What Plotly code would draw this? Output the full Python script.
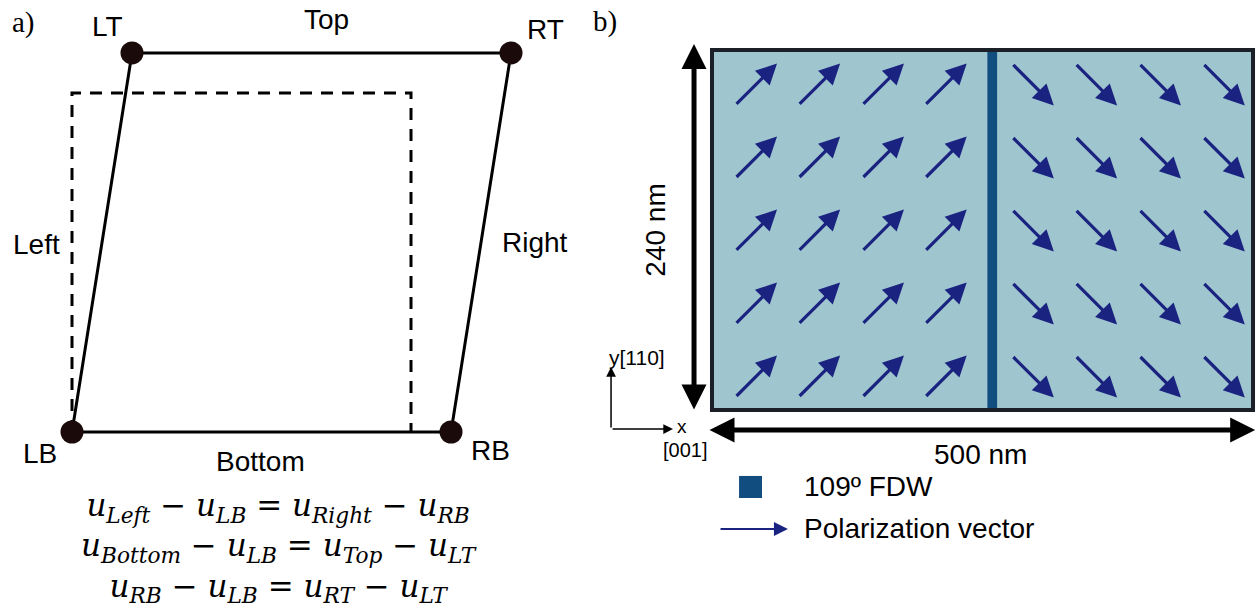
import plotly.graph_objects as go

# ---------------- data ----------------
# panel a: deformed cell corners, in units of the undeformed edge length
NODE_NAMES = ["LB", "RB", "RT", "LT"]
NODE_X = [0.0, 1.118, 1.295, 0.177]
NODE_Y = [0.0, 0.0, 1.118, 1.118]
# undeformed reference cell (dashed, open along the bottom)
REF_X = [0.0, 0.0, 1.0, 1.0]
REF_Y = [0.0, 1.0, 1.0, 0.0]
EDGE_NAMES = ["Bottom", "Right", "Top", "Left"]  # LB-RB, RB-RT, RT-LT, LT-LB
EQUATIONS = [
    ("Left", "LB", "Right", "RB"),
    ("Bottom", "LB", "Top", "LT"),
    ("RB", "LB", "RT", "LT"),
]

# panel b: domain geometry in nm
DOMAIN_W_NM = 500
DOMAIN_H_NM = 240
WALL_X_NM = 259
WALL_W_NM = 9
ARROW_COLS_LEFT = [40.7, 99.0, 158.0, 216.0]     # polarization up-right
ARROW_COLS_RIGHT = [296.5, 355.0, 414.0, 473.0]  # polarization down-right
ARROW_ROWS = [217.0, 168.3, 119.7, 71.0, 22.3]
ARROW_HALF_DX = 19.4
ARROW_HALF_DY = 14.0

# ---------------- styles ----------------
W, H = 1258, 609
SANS = "Liberation Sans, Arial, sans-serif"
SERIF = "Liberation Serif, Times New Roman, serif"
MATH = "DejaVu Serif, serif"
FILL = "#9fc6cf"
BORDER = "#1b2028"
WALL = "#124d80"
PCOL = "#1b2380"
DOT = "#1a0a0a"
FS = 28

fig = go.Figure()

# ---------- panel a ----------
poly_x = NODE_X + [NODE_X[0]]
poly_y = NODE_Y + [NODE_Y[0]]
fig.add_trace(go.Scatter(x=REF_X, y=REF_Y, mode="lines",
                         line=dict(color="black", width=3, dash="12px,9px"),
                         xaxis="x", yaxis="y", hoverinfo="skip"))
fig.add_trace(go.Scatter(x=poly_x, y=poly_y, mode="lines",
                         line=dict(color="black", width=3),
                         xaxis="x", yaxis="y", hoverinfo="skip"))
fig.add_trace(go.Scatter(x=NODE_X, y=NODE_Y, mode="markers",
                         marker=dict(color=DOT, size=23, line=dict(width=0)),
                         xaxis="x", yaxis="y", hoverinfo="skip"))

ann = []
node_shift = {"LB": (-32, -21), "RB": (39, -18), "RT": (34, 23), "LT": (-25, 26)}
for n, x, y in zip(NODE_NAMES, NODE_X, NODE_Y):
    dx, dy = node_shift[n]
    ann.append(dict(x=x, y=y, xref="x", yref="y", text=n, showarrow=False,
                    xshift=dx, yshift=dy, font=dict(family=SANS, size=FS, color="black")))
edge_shift = {"Bottom": (-1, -29), "Right": (54, 0), "Top": (5, 33), "Left": (-66, -2)}
for i, e in enumerate(EDGE_NAMES):
    j = (i + 1) % 4
    mx = (NODE_X[i] + NODE_X[j]) / 2
    my = (NODE_Y[i] + NODE_Y[j]) / 2
    dx, dy = edge_shift[e]
    ann.append(dict(x=mx, y=my, xref="x", yref="y", text=e, showarrow=False,
                    xshift=dx, yshift=dy, font=dict(family=SANS, size=FS, color="black")))

def u(sub):
    return f"<i>u</i><sub><i>{sub}</i></sub>"

eq_lines = [f"{u(a)} − {u(b)} = {u(c)} − {u(d)}" for (a, b, c, d) in EQUATIONS]
ann.append(dict(x=0.612, y=-0.340, xref="x", yref="y", text="<br>".join(eq_lines),
                showarrow=False, align="center",
                font=dict(family=MATH, size=31, color="black")))

ann.append(dict(x=-0.142, y=1.209, xref="x", yref="y", text="a)", showarrow=False,
                font=dict(family=SERIF, size=29, color="black")))

# ---------- panel b ----------
shapes = []
shapes.append(dict(type="rect", xref="x2", yref="y2", x0=0, x1=DOMAIN_W_NM, y0=0, y1=DOMAIN_H_NM,
                   fillcolor=FILL, line=dict(width=0), layer="below"))
shapes.append(dict(type="rect", xref="x2", yref="y2",
                   x0=WALL_X_NM - WALL_W_NM / 2, x1=WALL_X_NM + WALL_W_NM / 2,
                   y0=0, y1=DOMAIN_H_NM, fillcolor=WALL, line=dict(width=0), layer="below"))
shapes.append(dict(type="rect", xref="x2", yref="y2", x0=0, x1=DOMAIN_W_NM, y0=0, y1=DOMAIN_H_NM,
                   fillcolor="rgba(0,0,0,0)", line=dict(color=BORDER, width=4)))

def parrow(x0, y0, x1, y1, width=3, size=1.0, color=PCOL):
    return dict(x=x1, y=y1, ax=x0, ay=y0, xref="x2", yref="y2", axref="x2", ayref="y2",
                text="", showarrow=True, arrowhead=2, arrowsize=size, arrowwidth=width,
                arrowcolor=color, standoff=0, startstandoff=0)

for cy in ARROW_ROWS:
    for cx in ARROW_COLS_LEFT:
        ann.append(parrow(cx - ARROW_HALF_DX, cy - ARROW_HALF_DY,
                          cx + ARROW_HALF_DX, cy + ARROW_HALF_DY, width=3.2, size=1.3))
    for cx in ARROW_COLS_RIGHT:
        ann.append(parrow(cx - ARROW_HALF_DX, cy + ARROW_HALF_DY,
                          cx + ARROW_HALF_DX, cy - ARROW_HALF_DY, width=3.2, size=1.3))

# dimension arrows
dim = dict(text="", showarrow=True, arrowhead=2, arrowsize=1.0, arrowwidth=5,
           arrowcolor="black", arrowside="end+start", standoff=0, startstandoff=0,
           xref="x2", yref="y2", axref="x2", ayref="y2")
ann.append(dict(dim, x=-16.6, y=DOMAIN_H_NM + 4, ax=-16.6, ay=-0.7))
ann.append(dict(dim, x=DOMAIN_W_NM + 2, y=-13.3, ax=-3.7, ay=-13.3))
ann.append(dict(x=-52, y=DOMAIN_H_NM / 2, xref="x2", yref="y2", text=f"{DOMAIN_H_NM} nm",
                showarrow=False, textangle=-90, font=dict(family=SANS, size=FS, color="black")))
ann.append(dict(x=247.7, y=-30, xref="x2", yref="y2", text=f"{DOMAIN_W_NM} nm",
                showarrow=False, font=dict(family=SANS, size=FS, color="black")))

# coordinate indicator
small = dict(text="", showarrow=True, arrowhead=2, arrowsize=1.3, arrowwidth=1.5,
             arrowcolor="black", standoff=0, startstandoff=0,
             xref="x2", yref="y2", axref="x2", ayref="y2")
ann.append(dict(small, x=-93.3, y=28.7, ax=-93.3, ay=-12.7))
ann.append(dict(small, x=-36.0, y=-12.7, ax=-93.3, ay=-12.7))
ann.append(dict(x=-69.3, y=35.3, xref="x2", yref="y2", text="y[110]", showarrow=False,
                font=dict(family=SANS, size=21, color="black")))
ann.append(dict(x=-27.7, y=-10.7, xref="x2", yref="y2", text="x", showarrow=False,
                font=dict(family=SANS, size=19, color="black")))
ann.append(dict(x=-25.0, y=-26.7, xref="x2", yref="y2", text="[001]", showarrow=False,
                font=dict(family=SANS, size=20, color="black")))

# legend
shapes.append(dict(type="rect", xref="x2", yref="y2", x0=25, x1=46.2, y0=-58.7, y1=-44,
                   fillcolor=WALL, line=dict(width=0)))
ann.append(dict(x=83.2, y=-51.3, xref="x2", yref="y2", text="109º FDW", showarrow=False,
                xanchor="left", font=dict(family=SANS, size=FS, color="black")))
ann.append(parrow(6.5, -79.3, 70.2, -79.3, width=2, size=1.4))
ann.append(dict(x=83.2, y=-78.7, xref="x2", yref="y2", text="Polarization vector", showarrow=False,
                xanchor="left", font=dict(family=SANS, size=FS, color="black")))

ann.append(dict(x=-98.9, y=258.7, xref="x2", yref="y2", text="b)", showarrow=False,
                font=dict(family=SERIF, size=29, color="black")))

ax_common = dict(visible=False, showgrid=False, zeroline=False, fixedrange=True)
fig.update_layout(
    width=W, height=H, autosize=False,
    margin=dict(l=0, r=0, t=0, b=0, pad=0),
    paper_bgcolor="white", plot_bgcolor="white",
    showlegend=False,
    xaxis=dict(ax_common, domain=[0, 600 / W], range=[-0.2124, 1.5575]),
    yaxis=dict(ax_common, domain=[0, 1], range=[-0.5221, 1.2743]),
    xaxis2=dict(ax_common, domain=[600 / W, 1], range=[-103.5, 504.6]),
    yaxis2=dict(ax_common, domain=[0, 1], range=[-132.7, 273.3]),
    shapes=shapes, annotations=ann,
)

fig.write_html("out.html")
